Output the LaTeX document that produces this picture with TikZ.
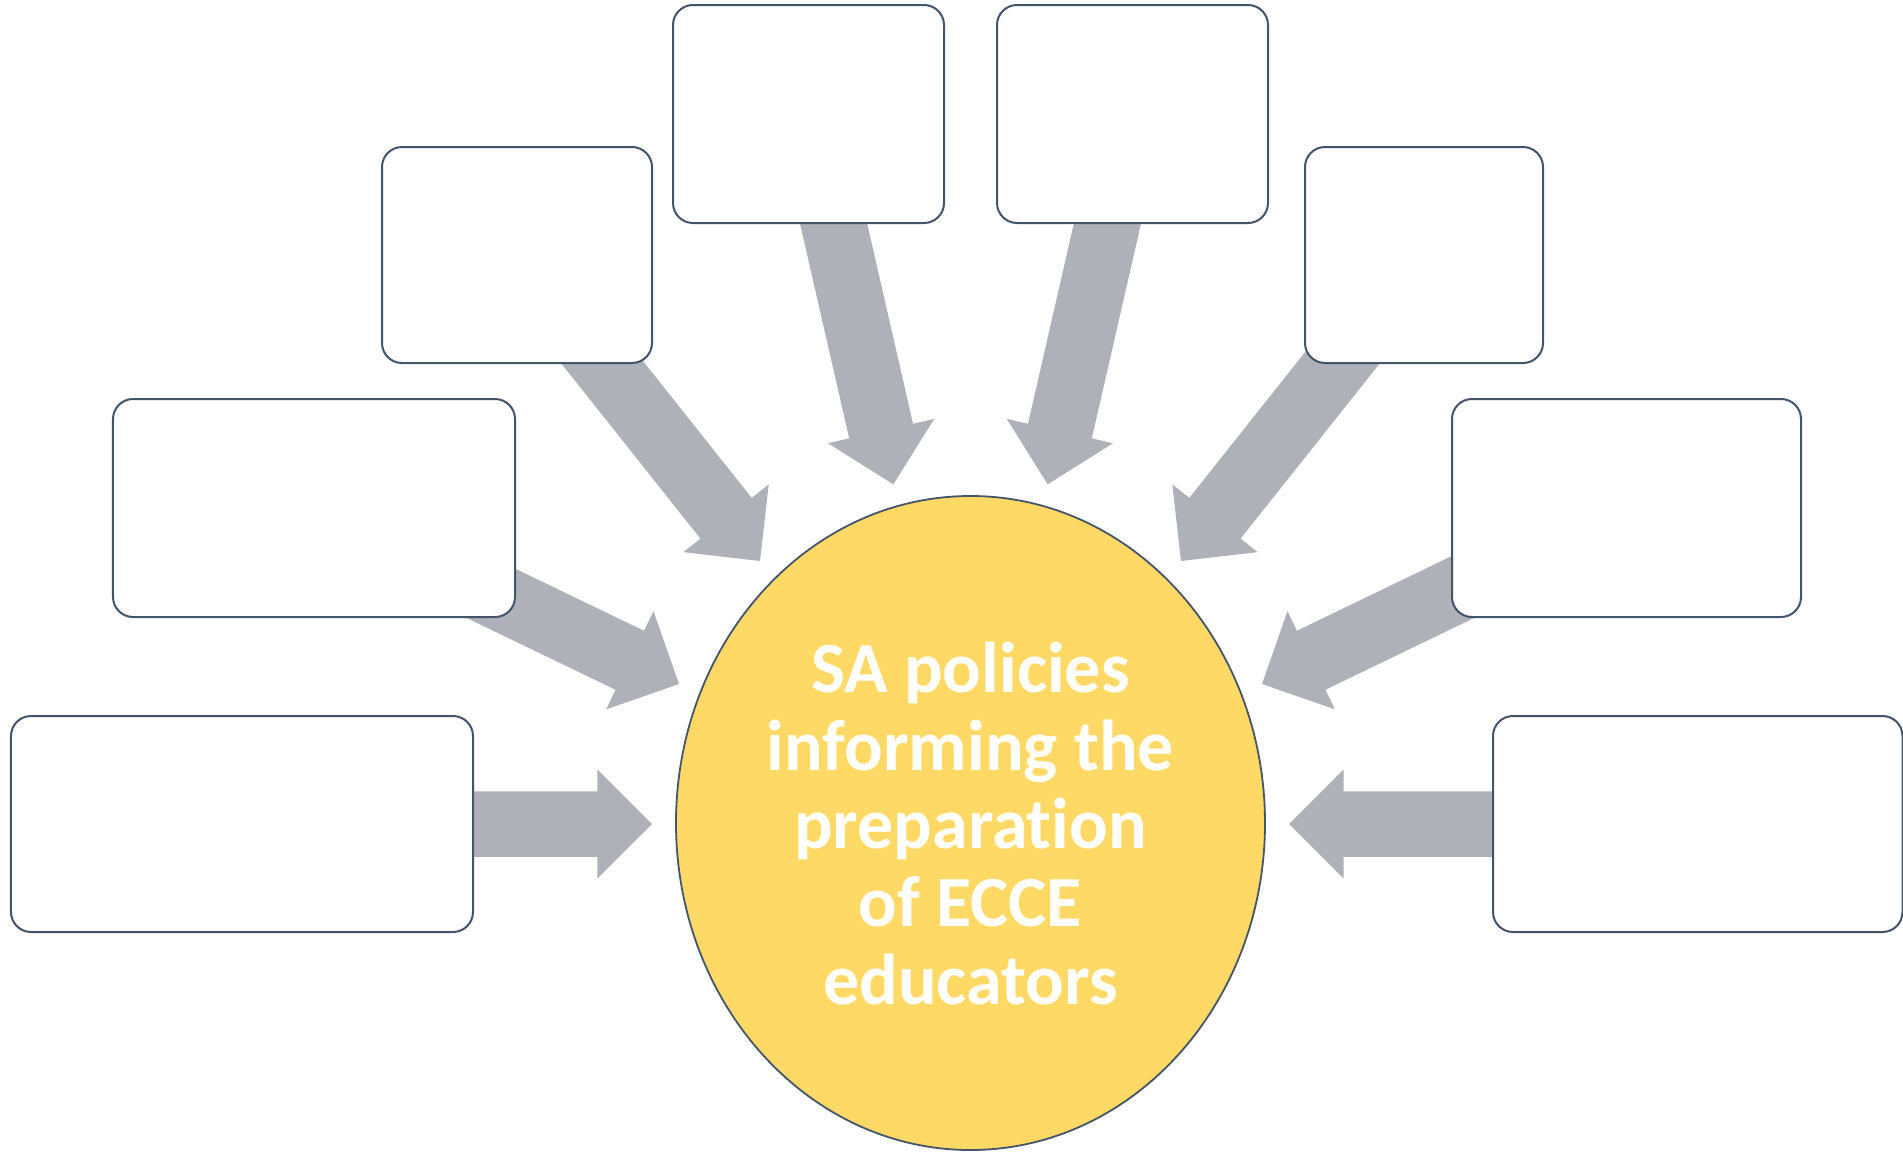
\documentclass[tikz,border=0pt]{standalone}
\usepackage{fontspec}
\setmainfont{Carlito}[Ligatures=NoCommon]
\usetikzlibrary{calc,shapes.geometric}

\definecolor{frameblue}{HTML}{44546A}
\definecolor{arrowgray}{HTML}{AEB1B7}
\definecolor{hubgold}{HTML}{FFD966}

% block arrow dimensions
\newcommand\arrHeadLen{54.6bp}
\newcommand\arrHeadHalf{54.5bp}
\newcommand\arrShaftHalf{32.75bp}

% block arrow from the centre of node #1 to the tip coordinate #2
\newcommand\policyarrow[2]{%
  \coordinate (#2-base) at ($(#2)!\arrHeadLen!(#1.center)$);
  \fill[arrowfill] (#2)
    -- ($(#2-base)!\arrHeadHalf!90:(#1.center)$)
    -- ($(#2-base)!\arrShaftHalf!90:(#1.center)$)
    -- ($(#1.center)!\arrShaftHalf!-90:(#2-base)$)
    -- ($(#1.center)!\arrShaftHalf!90:(#2-base)$)
    -- ($(#2-base)!\arrShaftHalf!-90:(#1.center)$)
    -- ($(#2-base)!\arrHeadHalf!-90:(#1.center)$)
    -- cycle;}

\tikzset{
  policybox/.style={draw=frameblue, line width=2bp, fill=white,
    rectangle, rounded corners=20bp, inner sep=0pt},
  arrowfill/.style={fill=arrowgray},
  hub/.style={ellipse, draw=frameblue, line width=1.8bp, fill=hubgold,
    minimum width=589bp, minimum height=654bp, inner sep=0pt},
  hubtext/.style={text=white, align=center, inner sep=0pt,
    font=\bfseries\fontsize{72bp}{78bp}\selectfont}
}

\begin{document}
\begin{tikzpicture}[x=1bp, y=-1bp]
  \useasboundingbox (0,0) rectangle (1903,1153);

  % box positions (outline only, drawn later on top of the arrows)
  \path
    (808.5,114)  node[policybox, minimum width=269bp, minimum height=216bp] (b1) {}
    (1132.5,114) node[policybox, minimum width=269bp, minimum height=216bp] (b2) {}
    (517,255)    node[policybox, minimum width=268bp, minimum height=214bp] (b3) {}
    (1424,255)   node[policybox, minimum width=236bp, minimum height=214bp] (b4) {}
    (314,508)    node[policybox, minimum width=400bp, minimum height=216bp] (b5) {}
    (1626.5,508) node[policybox, minimum width=347bp, minimum height=216bp] (b6) {}
    (242,824)    node[policybox, minimum width=460bp, minimum height=214bp] (b7) {}
    (1697.75,824) node[policybox, minimum width=407.5bp, minimum height=214bp] (b8) {};

  % arrow tips around the hub
  \coordinate (t1) at (893.3,484.3);
  \coordinate (t2) at (1047.7,484.3);
  \coordinate (t3) at (760,561);
  \coordinate (t4) at (1181,561);
  \coordinate (t5) at (679,684);
  \coordinate (t6) at (1262,684);
  \coordinate (t7) at (652,824);
  \coordinate (t8) at (1289,824);

  % arrows
  \policyarrow{b1}{t1}
  \policyarrow{b2}{t2}
  \policyarrow{b3}{t3}
  \policyarrow{b4}{t4}
  \policyarrow{b5}{t5}
  \policyarrow{b6}{t6}
  \policyarrow{b7}{t7}
  \policyarrow{b8}{t8}

  % boxes on top of the arrow tails
  \foreach \b in {b1,b2,b3,b4,b5,b6,b7,b8}
    \path[policybox] (\b.north west) [rounded corners=20bp] rectangle (\b.south east);

  % central hub
  \node[hub] (hub) at (970.5,823) {};
  \node[hubtext] (hublabel) at (hub.center)
    {SA policies\\informing the\\preparation\\of ECCE\\educators};
\end{tikzpicture}
\end{document}
